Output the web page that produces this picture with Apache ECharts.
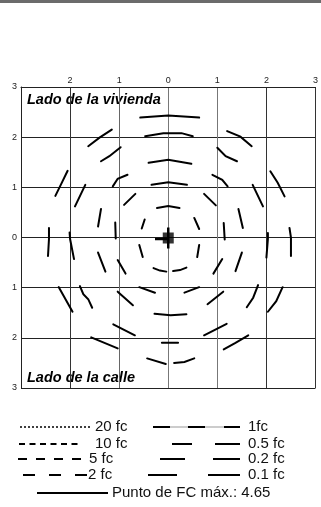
<!DOCTYPE html>
<html>
<head>
<meta charset="utf-8">
<script src="https://cdn.jsdelivr.net/npm/echarts@6/dist/echarts.min.js"></script>
<style>
  html, body { margin: 0; padding: 0; background: #fff; }
  #chart { width: 321px; height: 507px; }
</style>
</head>
<body>
<div id="chart"></div>
<script>
// axis ticks (feet from the fixture, both sides shown as absolute values)
const axisMin = -3;
const axisMax = 3;
const axisStep = 1;

// isofootcandle contours, one list of dash strokes per level, in axis units
const dashes2fc = [
  [[-0.23, 0.59], [0, 0.63], [0.23, 0.59]],
  [[-0.48, 0.36], [-0.54, 0.18]],
  [[0.53, 0.39], [0.63, 0.17]],
  [[-0.59, -0.15], [-0.52, -0.39]],
  [[0.63, -0.15], [0.59, -0.39]],
  [[-0.3, -0.61], [-0.17, -0.66], [-0.04, -0.68]],
  [[0.1, -0.67], [0.24, -0.65], [0.37, -0.6]]
];
const dashes1fc = [
  [[-0.34, 1.05], [0, 1.1], [0.38, 1.05]],
  [[-0.9, 0.65], [-0.67, 0.87]],
  [[0.73, 0.87], [0.97, 0.64]],
  [[-1.08, 0.3], [-1.07, -0.02]],
  [[1.13, 0.29], [1.15, -0.04]],
  [[-1.03, -0.45], [-0.87, -0.72]],
  [[1.1, -0.43], [0.92, -0.72]],
  [[-0.59, -0.99], [-0.27, -1.1]],
  [[0.33, -1.1], [0.63, -0.99]]
];
const dashes05fc = [
  [[-0.4, 1.49], [0, 1.55], [0.47, 1.47]],
  [[-1.13, 1.02], [-1.03, 1.17], [-0.83, 1.25]],
  [[0.9, 1.25], [1.1, 1.15], [1.21, 1.02]],
  [[-1.43, 0.22], [-1.37, 0.57]],
  [[1.43, 0.57], [1.52, 0.19]],
  [[-1.43, -0.3], [-1.28, -0.68]],
  [[1.5, -0.3], [1.37, -0.67]],
  [[-1.03, -1.08], [-0.72, -1.35]],
  [[0.8, -1.33], [1.12, -1.08]],
  [[-0.28, -1.52], [0.05, -1.55], [0.37, -1.53]]
];
const dashes02fc = [
  [[-0.47, 2.02], [-0.1, 2.08], [0.27, 2.08], [0.5, 2.02]],
  [[-1.37, 1.52], [-1.2, 1.62], [-0.97, 1.8]],
  [[1.0, 1.79], [1.17, 1.62], [1.4, 1.52]],
  [[-1.9, 0.62], [-1.69, 1.05]],
  [[1.72, 1.05], [1.93, 0.62]],
  [[-2.01, 0.1], [-2.0, -0.03], [-1.92, -0.43]],
  [[2.03, 0.09], [2.03, -0.03], [2.0, -0.4]],
  [[-1.8, -0.97], [-1.73, -1.13], [-1.63, -1.23], [-1.55, -1.4]],
  [[1.83, -0.95], [1.73, -1.2], [1.6, -1.39]],
  [[-1.12, -1.73], [-0.68, -1.95]],
  [[0.73, -1.95], [1.19, -1.72]],
  [[-0.13, -2.1], [0.2, -2.1]]
];
const dashes01fc = [
  [[-0.57, 2.39], [0, 2.43], [0.63, 2.39]],
  [[-1.63, 1.82], [-1.4, 1.99], [-1.15, 2.15]],
  [[1.2, 2.12], [1.47, 2.01], [1.7, 1.82]],
  [[-2.3, 0.83], [-2.17, 1.09], [-2.05, 1.33]],
  [[2.08, 1.32], [2.23, 1.09], [2.37, 0.82]],
  [[-2.43, 0.19], [-2.43, -0.03], [-2.45, -0.37]],
  [[2.47, 0.19], [2.5, 0.0], [2.5, -0.37]],
  [[-2.23, -0.99], [-1.95, -1.48]],
  [[2.33, -0.99], [2.2, -1.27], [2.03, -1.48]],
  [[-1.57, -1.99], [-1.3, -2.1], [-1.03, -2.21]],
  [[1.13, -2.23], [1.37, -2.1], [1.63, -1.95]],
  [[-0.43, -2.41], [-0.05, -2.52]],
  [[0.12, -2.5], [0.33, -2.48], [0.53, -2.41]]
];

// fixture: max point and its small arms
const maxPoint = [[0, -0.01]];
const fixtureArms = [
  [[-0.27, -0.03], [0, -0.03]],
  [[0, 0.2], [0, -0.22]]
];

const contourLevels = ['2 fc', '1fc', '0.5 fc', '0.2 fc', '0.1 fc'];
const contourDashes = [dashes2fc, dashes1fc, dashes05fc, dashes02fc, dashes01fc];

const maxLabel = 'Punto de FC máx.: 4.65';

const chart = echarts.init(document.getElementById('chart'), null, { renderer: 'canvas' });

const font = 'Liberation Sans, Arial, sans-serif';

const contourSeries = contourLevels.map((name, i) => ({
  name: name,
  type: 'lines',
  coordinateSystem: 'cartesian2d',
  polyline: true,
  silent: true,
  lineStyle: { color: '#000', width: 2, opacity: 1, cap: 'round' },
  data: contourDashes[i].map(d => ({ coords: d }))
}));

// legend samples, drawn as decoration under the chart
function sample(x1, x2, y, dash, width, color) {
  return {
    type: 'line',
    shape: { x1: x1, y1: y, x2: x2, y2: y },
    style: { stroke: color || '#000', lineWidth: width || 2, lineDash: dash || null }
  };
}
function label(text, x, y) {
  return {
    type: 'text',
    x: x, y: y,
    style: { text: text, font: '15px ' + font, fill: '#111', verticalAlign: 'middle' }
  };
}

const option = {
  animation: false,
  grid: { left: 21, top: 87, width: 300, height: 301, containLabel: false },
  xAxis: {
    type: 'value',
    position: 'top',
    min: axisMin, max: axisMax, interval: axisStep,
    axisLine: { show: true, onZero: false, lineStyle: { color: '#222', width: 1 } },
    axisTick: { show: false },
    axisLabel: {
      showMinLabel: false,
      alignMaxLabel: 'center',
      margin: 2, fontSize: 9, color: '#222', fontFamily: font,
      formatter: v => String(Math.abs(v))
    },
    splitLine: { show: true, lineStyle: { color: ['#333', '#333', '#666', '#777', '#777', '#333', '#333'], width: 1 } }
  },
  yAxis: {
    type: 'value',
    min: axisMin, max: axisMax, interval: axisStep,
    axisLine: { show: true, onZero: false, lineStyle: { color: '#222', width: 1 } },
    axisTick: { show: false },
    axisLabel: {
      margin: 4, fontSize: 9, color: '#222', fontFamily: font,
      formatter: v => String(Math.abs(v))
    },
    splitLine: { show: true, lineStyle: { color: '#222', width: 1 } }
  },
  series: contourSeries.concat([
    {
      name: 'fixture',
      type: 'lines',
      coordinateSystem: 'cartesian2d',
      polyline: true,
      silent: true,
      lineStyle: { color: '#000', width: 2.5, opacity: 1 },
      data: fixtureArms.map(d => ({ coords: d }))
    },
    {
      name: maxLabel,
      type: 'scatter',
      symbol: 'rect',
      symbolSize: 11,
      itemStyle: { color: '#000' },
      data: maxPoint
    }
  ]),
  graphic: [
    { type: 'rect', shape: { x: 0, y: 0, width: 321, height: 3 }, style: { fill: '#6b6b6b' } },
    {
      type: 'text', x: 27, y: 99.5,
      style: { text: 'Lado de la vivienda', font: 'italic bold 14.5px ' + font, fill: '#000', verticalAlign: 'middle' }
    },
    {
      type: 'text', x: 27, y: 377.5,
      style: { text: 'Lado de la calle', font: 'italic bold 14.5px ' + font, fill: '#000', verticalAlign: 'middle' }
    },
    // left column
    sample(20, 90, 427, [2, 2], 1.5),
    label('20 fc', 95, 427),
    sample(19, 80, 444, [6, 4.5], 2),
    label('10 fc', 95, 444),
    sample(18, 83, 459, [9, 9], 2),
    label('5 fc', 89, 459),
    sample(23, 90, 475, [12, 14], 2),
    label('2 fc', 88, 475),
    // right column
    sample(153, 240, 427, null, 1, '#999'),
    sample(153, 170, 427), sample(188, 205, 427), sample(224, 240, 427),
    label('1fc', 248, 427),
    sample(172, 192, 444), sample(215, 240, 444),
    label('0.5 fc', 248, 444),
    sample(160, 185, 459), sample(213, 240, 459),
    label('0.2 fc', 248, 459),
    sample(148, 177, 475), sample(208, 240, 475),
    label('0.1 fc', 248, 475),
    // max point
    sample(37, 108, 493, null, 2),
    label(maxLabel, 112, 493)
  ]
};

chart.setOption(option);
</script>
</body>
</html>
